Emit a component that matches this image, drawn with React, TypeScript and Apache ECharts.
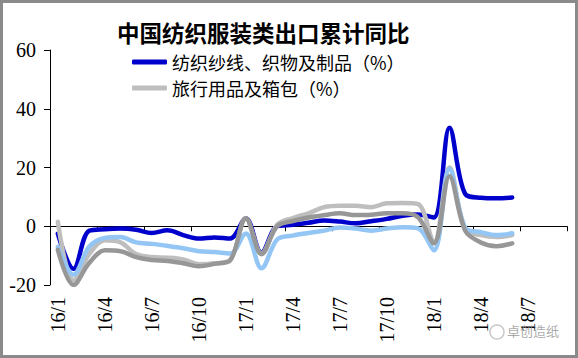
import React, { useEffect, useRef } from "react";
import * as echarts from "echarts";

const categories = [
  "16/1", "16/2", "16/3", "16/4", "16/5", "16/6", "16/7", "16/8", "16/9", "16/10", "16/11", "16/12",
  "17/1", "17/2", "17/3", "17/4", "17/5", "17/6", "17/7", "17/8", "17/9", "17/10", "17/11", "17/12",
  "18/1", "18/2", "18/3", "18/4", "18/5", "18/6", "18/7", "18/8", "18/9",
];

const textileName = "纺织纱线、织物及制品（%）";
const travelName = "旅行用品及箱包（%）";
const lightBlueName = "服装及衣着附件（%）";
const darkGrayName = "鞋类（%）";

const textile = [
  -2.5, -14.5, -1.5, -1.0, -0.8, -1.2, -2.3, -1.4, -3.0, -4.2, -3.8, -4.2,
  2.7, -9.0, 0.0, 0.5, 1.2, 2.0, 1.6, 1.0, 1.7, 2.5, 3.6, 4.0,
  3.0, 33.5, 11.0, 9.7, 9.5, 9.8,
];
const travel = [
  1.5, -18.5, -9.5, -4.8, -5.5, -9.5, -10.5, -10.7, -11.3, -12.9, -12.6, -11.5,
  2.7, -9.3, 0.5, 2.8, 4.4, 6.5, 7.0, 7.0, 6.5, 7.8, 7.9, 7.5,
  -5.5, 20.0, -1.0, -3.0, -3.7, -3.0,
];
const lightBlue = [
  -7.0, -16.5, -7.0, -4.0, -3.7, -5.5, -6.0, -6.7, -7.5, -8.5, -8.8, -9.3,
  -2.5, -14.3, -4.5, -3.2, -2.3, -1.5, -0.4, -0.8, -1.5, -0.8, -0.3, -0.7,
  -8.2, 19.5, -0.5, -2.0, -3.0, -2.4,
];
const darkGray = [
  -8.0, -20.0, -12.5, -8.2, -8.5, -10.5, -11.5, -11.8, -12.6, -13.6, -12.8, -11.6,
  2.7, -9.5, 0.0, 1.8, 3.0, 3.8, 4.4, 3.8, 3.9, 4.4, 4.4, 3.0,
  -5.8, 17.0, -1.5, -5.5, -6.8, -5.8,
];

const yMin = -20;
const yMax = 60;
const yStep = 20;

const serifFont = "'Liberation Serif', 'Times New Roman', serif";

export default function App() {
  const ref = useRef<HTMLDivElement>(null);
  useEffect(() => {
    document.body.style.margin = "0";
    if (!ref.current) return;
    const chart = echarts.init(ref.current, null, { renderer: "svg" });
    const lineSeries = (name: string, data: number[], color: string) => ({
      name,
      type: "line",
      data,
      xAxisIndex: 0,
      yAxisIndex: 0,
      smooth: 0.35,
      symbol: "none",
      lineStyle: { color, width: 4.5, cap: "round", join: "round" },
      itemStyle: { color },
    });
    chart.setOption({
      animation: false,
      backgroundColor: "#ffffff",
      title: {
        text: "中国纺织服装类出口累计同比",
        left: 117,
        top: 19,
        padding: 0,
        textStyle: {
          fontFamily: "Noto Sans CJK SC",
          fontSize: 22.5,
          fontWeight: "bold",
          color: "#000",
          lineHeight: 26,
        },
      },
      legend: {
        data: [textileName, travelName],
        orient: "vertical",
        left: 132,
        top: 52,
        padding: 0,
        itemWidth: 35,
        itemHeight: 5,
        itemGap: 6,
        icon: "roundRect",
        textStyle: {
          fontFamily: "Noto Sans CJK SC",
          fontSize: 18,
          lineHeight: 20,
          color: "#000",
        },
      },
      grid: { left: 50, right: 11, top: 50, bottom: 73, containLabel: false },
      xAxis: [
        {
          type: "category",
          data: categories,
          boundaryGap: true,
          position: "bottom",
          axisLine: { show: true, onZero: true, lineStyle: { color: "#000", width: 1 } },
          axisTick: { show: true, interval: 2, length: 5, lineStyle: { color: "#000" } },
          axisLabel: { show: false },
          splitLine: { show: false },
        },
        {
          type: "category",
          data: categories,
          boundaryGap: true,
          position: "bottom",
          axisLine: { show: false, onZero: false },
          axisTick: { show: false },
          axisLabel: {
            show: true,
            interval: 2,
            rotate: 90,
            margin: 12,
            fontFamily: serifFont,
            fontSize: 20,
            color: "#000",
          },
          splitLine: { show: false },
        },
      ],
      yAxis: {
        type: "value",
        min: yMin,
        max: yMax,
        interval: yStep,
        axisLine: { show: true, lineStyle: { color: "#000", width: 1 } },
        axisTick: { show: true, length: 6, lineStyle: { color: "#000" } },
        axisLabel: {
          margin: 14,
          fontFamily: serifFont,
          fontSize: 20,
          color: "#000",
        },
        splitLine: { show: false },
      },
      series: [
        lineSeries(textileName, textile, "#0000CD"),
        lineSeries(travelName, travel, "#BEBEBE"),
        lineSeries(lightBlueName, lightBlue, "#93C6F4"),
        lineSeries(darkGrayName, darkGray, "#979797"),
      ],
      graphic: [
        {
          type: "rect",
          shape: { x: 1.5, y: 1.5, width: 575, height: 355 },
          style: { fill: "none", stroke: "#8a8a8a", lineWidth: 3 },
          silent: true,
          z: 100,
        },
        {
          type: "circle",
          shape: { cx: 497, cy: 332, r: 7 },
          style: { fill: "none", stroke: "#c8c8c8", lineWidth: 1.5 },
          z: 100,
        },
        {
          type: "text",
          left: 507,
          top: 324,
          style: {
            text: "卓创造纸",
            fontFamily: "Noto Sans CJK SC",
            fontSize: 13,
            fill: "#9a9a9a",
            opacity: 0.85,
          },
          z: 100,
        },
      ],
    });
    return () => chart.dispose();
  }, []);
  return <div ref={ref} style={{ width: 578, height: 358 }} />;
}
